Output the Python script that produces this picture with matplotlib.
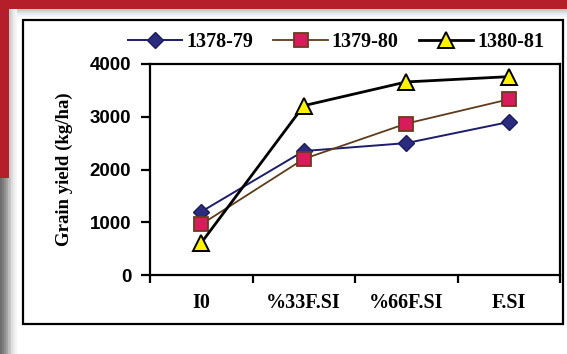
import matplotlib.pyplot as plt
from matplotlib.patches import Rectangle

# Data
categories = ["I0", "%33F.SI", "%66F.SI", "F.SI"]
series_names = ["1378-79", "1379-80", "1380-81"]
yield_7879 = [1200, 2350, 2500, 2900]
yield_7980 = [960, 2200, 2870, 3330]
yield_8081 = [610, 3210, 3660, 3760]
y_ticks = [0, 1000, 2000, 3000, 4000]

W, H = 567, 354
fig = plt.figure(figsize=(W / 100, H / 100), dpi=100)
fig.patch.set_facecolor("white")


def px_rect(x0, y0, x1, y1, **kw):
    # rectangle given in image pixels (top-left origin)
    fig.patches.append(Rectangle((x0 / W, 1 - y1 / H), (x1 - x0) / W, (y1 - y0) / H,
                                 transform=fig.transFigure, figure=fig, **kw))


# frame decoration: red band on top / left, grey strip lower left, soft shadow
red = "#b51f2a"
shades = ["#c9c9c9", "#dcdcdc", "#ebebeb", "#f5f5f5"]
for i, c in enumerate(shades):
    px_rect(0, 9 + i * 2, W, 11 + i * 2, color=c, lw=0)
for i, c in enumerate(shades):
    px_rect(9 + i * 2, 0, 11 + i * 2, H, color=c, lw=0)
px_rect(0, 0, W, 9, color=red, lw=0)
px_rect(0, 0, 9, 178, color=red, lw=0)
greys = ["#6e6e6e", "#7d7d7d", "#8e8e8e", "#a3a3a3", "#bdbdbd"]
for i, c in enumerate(greys):
    px_rect(i * 2, 178, i * 2 + 2, H, color=c, lw=0)

# outer black box
px_rect(23, 20, 563, 324, fill=False, edgecolor="black", lw=1.6)

ax = fig.add_axes([150 / W, 1 - 275 / H, 410 / W, 211 / H])
x = list(range(len(categories)))

ax.plot(x, yield_7879, color="#1c1c6b", lw=1.4, marker="D", ms=8,
        mfc="#2b2b80", mec="#1c1c5a", label=series_names[0], zorder=3)
ax.plot(x, yield_7980, color="#5e3b1c", lw=1.3, marker="s", ms=10,
        mfc="#d81b5c", mec="#6b3a1e", mew=1.3, label=series_names[1], zorder=3)
ax.plot(x, yield_8081, color="black", lw=2.0, marker="^", ms=11,
        mfc="#fff200", mec="black", mew=1.4, label=series_names[2], zorder=3)

ax.set_xlim(-0.5, len(categories) - 0.5)
ax.set_ylim(0, 4000)
ax.set_yticks(y_ticks)
ax.set_yticklabels([str(v) for v in y_ticks],
                   fontfamily="Liberation Sans", fontweight="bold", fontsize=13.5)
ax.set_xticks(x)
ax.set_xticklabels(categories, fontfamily="Liberation Serif", fontweight="bold", fontsize=14.5)
ax.set_xticks([i - 0.5 for i in range(len(categories) + 1)], minor=True)
ax.tick_params(axis="x", which="major", length=0, pad=13)
ax.tick_params(axis="x", which="minor", length=6, width=1.6, direction="out")
ax.tick_params(axis="y", length=6.5, width=1.6, direction="out", pad=7)

for s in ax.spines.values():
    s.set_linewidth(1.6)

ax.set_ylabel("Grain yield (kg/ha)", fontfamily="Liberation Serif", fontweight="bold",
              fontsize=13.5, labelpad=12)

fig.legend(loc="center", bbox_to_anchor=(336 / W, 1 - 42 / H), ncol=3, frameon=False,
           prop={"family": "Liberation Serif", "weight": "bold", "size": 14.5},
           handlelength=2.7, handletextpad=0.2, columnspacing=1.0)

fig.savefig("out.png", dpi=100)
